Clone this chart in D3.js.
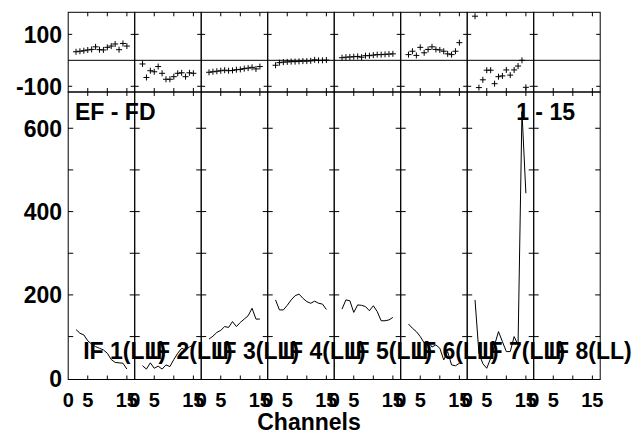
<!DOCTYPE html>
<html><head><meta charset="utf-8">
<script src="https://cdn.jsdelivr.net/npm/d3@7"></script>
<style>
body{margin:0;background:#fff}
text{font-family:"Liberation Sans",Arial,sans-serif;font-weight:bold;fill:#000}
</style></head>
<body><svg id="c" width="636" height="434"></svg>
<script>
// ---- data ----
const channels = [2,3,4,5,6,7,8,9,10,11,12,13,14,15];
const ifLabels = ["IF 1(LL)","IF 2(LL)","IF 3(LL)","IF 4(LL)","IF 5(LL)","IF 6(LL)","IF 7(LL)","IF 8(LL)"];
const phase1 = [33,35,37,40,42,52,41,40,50,55,63,41,65,55];
const phase2 = [-14,-66,-40,-44,-24,-50,-73,-73,-63,-50,-48,-63,-48,-50];
const phase3 = [-46,-44,-42,-40,-38,-40,-39,-36,-35,-32,-30,-27,-33,-24];
const phase4 = [-19,-9,-7,-6,-5,-5,-4,-3,-3,-2,2,0,0,1];
const phase5 = [10,12,13,14,15,12,18,18,20,22,22,23,24,25];
const phase6 = [22,35,19,50,29,42,52,42,40,35,25,22,35,68];
const phase7 = [170,-105,-75,-38,-38,-90,-63,-60,-37,-57,-37,-22,0,-104];
const phase8 = [];
const amp1 = [117,108,104,90,82,76,72,68,60,45,38,37,36,22];
const amp2 = [30,22,37,24,29,22,32,28,45,60,72,68,75,80];
const amp3 = [94,101,110,115,124,122,136,124,134,142,150,168,142,142];
const amp4 = [188,164,164,175,188,198,202,192,184,180,185,180,178,165];
const amp5 = [166,188,186,158,176,175,172,162,174,160,138,138,140,146];
const amp6 = [130,120,112,100,85,88,75,80,72,44,64,32,30,36];
const amp7 = [188,60,35,24,48,80,112,88,64,64,100,80,640,444];
const amp8 = [];
const phases = [phase1,phase2,phase3,phase4,phase5,phase6,phase7,phase8];
const amps = [amp1,amp2,amp3,amp4,amp5,amp6,amp7,amp8];
const xTickVals = [5,10,15];
const xTickLabels = [0,5,15];
const ampTicks = [100,200,300,400,500,600];
const ampLabels = [0,200,400,600];
const phaseTicks = [-100,100];
const phaseLabels = [100,-100];
const titleLeft = "EF - FD";
const titleRight = "1 - 15";
const xTitle = "Channels";

// ---- layout ----
const svg = d3.select("#c");
const L0 = 68.2, PW = 66.5, N = 8;
const yTop = 12.3, yMid = 92, yBot = 379.5;
const yPh = d3.scaleLinear().domain([-122,185]).range([yMid,yTop]);
const yAm = d3.scaleLinear().domain([-3,687]).range([yBot,yMid]);
const g = svg.append("g");

for (let i=0;i<N;i++){
  const left = L0 + i*PW;
  const x = d3.scaleLinear().domain([0,17]).range([left,left+PW]);
  const p = g.append("g");
  // frames
  p.append("rect").attr("x",left).attr("y",yTop).attr("width",PW).attr("height",yMid-yTop)
    .attr("fill","none").attr("stroke","#000").attr("stroke-width",1);
  p.append("rect").attr("x",left).attr("y",yMid).attr("width",PW).attr("height",yBot-yMid)
    .attr("fill","none").attr("stroke","#000").attr("stroke-width",1);
  // zero line phase
  p.append("line").attr("x1",left).attr("x2",left+PW).attr("y1",yPh(0)).attr("y2",yPh(0))
    .attr("stroke","#000");
  // x ticks
  xTickVals.forEach(v=>{
    [[yTop,4],[yMid,-4],[yMid,4],[yBot,-4]].forEach(([yy,d])=>{
      p.append("line").attr("x1",x(v)).attr("x2",x(v)).attr("y1",yy).attr("y2",yy+d)
        .attr("stroke","#000");
    });
  });
  // y ticks
  ampTicks.forEach(v=>{
    p.append("line").attr("x1",left).attr("x2",left+5).attr("y1",yAm(v)).attr("y2",yAm(v)).attr("stroke","#000");
    p.append("line").attr("x1",left+PW).attr("x2",left+PW-5).attr("y1",yAm(v)).attr("y2",yAm(v)).attr("stroke","#000");
  });
  phaseTicks.forEach(v=>{
    p.append("line").attr("x1",left).attr("x2",left+4).attr("y1",yPh(v)).attr("y2",yPh(v)).attr("stroke","#000");
    p.append("line").attr("x1",left+PW).attr("x2",left+PW-4).attr("y1",yPh(v)).attr("y2",yPh(v)).attr("stroke","#000");
  });
  // phase crosses
  const ph = phases[i];
  p.selectAll("path.cr").data(ph).enter().append("path")
    .attr("d",(d,j)=>{const cx=x(channels[j]),cy=yPh(d);return `M${cx-3},${cy}H${cx+3}M${cx},${cy-3}V${cy+3}`;})
    .attr("stroke","#000").attr("stroke-width",1).attr("fill","none");
  // amplitude line
  const am = amps[i];
  if (am.length){
    const line = d3.line().x((d,j)=>x(channels[j])).y(d=>yAm(d));
    p.append("path").datum(am).attr("d",line).attr("fill","none").attr("stroke","#000").attr("stroke-width",1);
  }
  // x tick labels
  xTickLabels.forEach(v=>{
    p.append("text").attr("x",x(v)).attr("y",407).attr("text-anchor","middle")
      .style("font-size","20px").text(v);
  });
}
// panel labels on top
for (let i=0;i<N;i++){
  const left = L0 + i*PW;
  g.append("text").attr("x",left+15).attr("y",359).style("font-size","23px").text(ifLabels[i]);
}
// y labels
ampLabels.forEach(v=>{
  g.append("text").attr("x",62).attr("y",yAm(v)+8.5).attr("text-anchor","end").style("font-size","23px").text(v);
});
phaseLabels.forEach(v=>{
  g.append("text").attr("x",62).attr("y",yPh(v)+8.5).attr("text-anchor","end").style("font-size","23px").text(v);
});
g.append("text").attr("x",75).attr("y",120).style("font-size","23px").text(titleLeft);
g.append("text").attr("x",575).attr("y",120).attr("text-anchor","end").style("font-size","23px").text(titleRight);
g.append("text").attr("x",309).attr("y",430).attr("text-anchor","middle").style("font-size","23px").text(xTitle);
</script></body></html>
